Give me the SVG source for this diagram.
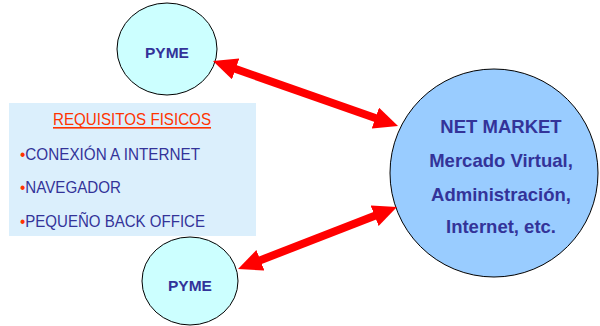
<svg xmlns="http://www.w3.org/2000/svg" width="600" height="326" viewBox="0 0 600 326">
<style>
.pyme{fill:#CCFFFF;stroke:#000;stroke-width:1}
.big{fill:#99CCFF;stroke:#000;stroke-width:1}
.nt{font-family:"Liberation Sans",Arial,sans-serif;font-weight:bold;fill:#333399;text-anchor:middle}
.lt{font-family:"Liberation Sans",Arial,sans-serif;fill:#333399;font-size:17px}
.bul{fill:#FF3300}
.hd{font-family:"Liberation Sans",Arial,sans-serif;fill:#FF3300;font-size:16.5px}
.arr{stroke:#FF0000;stroke-width:8;fill:none;marker-start:url(#ah);marker-end:url(#ah)}
</style>
<defs>
<marker id="ah" viewBox="0 0 24 22" markerUnits="userSpaceOnUse" markerWidth="24" markerHeight="22" refX="12" refY="11" orient="auto-start-reverse">
<path d="M0,0 L24,11 L0,22 Z" fill="#FF0000"/>
</marker>
</defs>
<g id="requisitos">
<rect x="9" y="103" width="247" height="133" fill="#DBEFFC"/>
<text class="hd" x="53" y="125" textLength="158" lengthAdjust="spacingAndGlyphs">REQUISITOS FISICOS</text>
<rect x="53" y="127" width="158" height="1.6" fill="#FF3300"/>
<text class="lt" x="20" y="160" textLength="180" lengthAdjust="spacingAndGlyphs"><tspan class="bul">•</tspan>CONEXIÓN A INTERNET</text>
<text class="lt" x="20" y="193" textLength="101" lengthAdjust="spacingAndGlyphs"><tspan class="bul">•</tspan>NAVEGADOR</text>
<text class="lt" x="20" y="227" textLength="185" lengthAdjust="spacingAndGlyphs"><tspan class="bul">•</tspan>PEQUEÑO BACK OFFICE</text>
</g>
<g id="pyme1">
<ellipse class="pyme" cx="167" cy="49" rx="50" ry="46"/>
<text class="nt" x="167" y="58" font-size="15.5">PYME</text>
</g>
<g id="pyme2">
<ellipse class="pyme" cx="190" cy="281" rx="48" ry="44"/>
<text class="nt" x="190" y="291" font-size="15.5">PYME</text>
</g>
<g id="netmarket">
<circle class="big" cx="494" cy="173" r="104"/>
<text class="nt" x="501" y="133" font-size="18.5">NET MARKET</text>
<text class="nt" x="501" y="167" font-size="18.5">Mercado Virtual,</text>
<text class="nt" x="501" y="201" font-size="18.5">Administración,</text>
<text class="nt" x="501" y="233" font-size="18.5">Internet, etc.</text>
</g>
<g id="connectors">
<line class="arr" x1="224.3" y1="65" x2="386.7" y2="122"/>
<line class="arr" x1="249.2" y1="264.6" x2="385.8" y2="211.4"/>
</g>
</svg>
